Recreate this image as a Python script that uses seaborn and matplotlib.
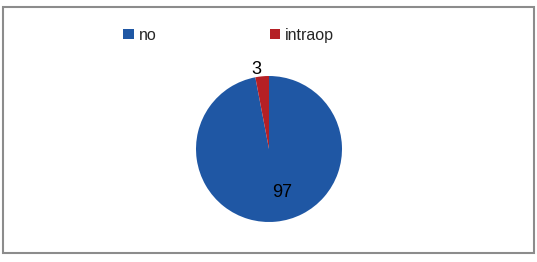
import numpy as np
import matplotlib
matplotlib.use("Agg")
import matplotlib.pyplot as plt
import seaborn as sns
from matplotlib.patches import Patch, Rectangle

# Data
categories = ["no", "intraop"]
values = [97, 3]
colors = ["#1F57A4", "#B52025"]

sns.set_theme(style="white")
plt.rcParams["font.family"] = ["Liberation Sans", "DejaVu Sans"]

fig = plt.figure(figsize=(5.37, 2.62), dpi=100)
fig.patch.set_facecolor("white")

# outer frame
fig.add_artist(Rectangle((3 / 537, 1 - 253 / 262), 531 / 537, 246 / 262,
                         transform=fig.transFigure, fill=False,
                         edgecolor="#8c8c8c", linewidth=1.5))

ax = fig.add_axes([196 / 537, 40 / 262, 146 / 537, 146 / 262])
wedges, _ = ax.pie(values, colors=colors, startangle=90, counterclock=False,
                   wedgeprops=dict(linewidth=0))
ax.set_xlim(-1, 1)
ax.set_ylim(-1, 1)
ax.set_aspect("equal")
ax.axis("off")

# value labels: inside for the big slice, outside for the small one
for w, v, dist, shift in zip(wedges, values, [0.62, 1.1], [12, 4]):
    ang = np.deg2rad((w.theta1 + w.theta2) / 2 + shift)
    ax.text(dist * np.cos(ang), dist * np.sin(ang), str(v),
            ha="center", va="center", fontsize=13, color="black")

handles = [Patch(facecolor=c, edgecolor="none") for c in colors]
fig.legend(handles, categories, loc="center left", bbox_to_anchor=(109 / 537, 1 - 35 / 262),
           ncol=2, frameon=False, fontsize=11.5, handlelength=0.65, handleheight=0.65,
           handletextpad=0.3, columnspacing=7.1)

fig.savefig("out.png", dpi=100)
